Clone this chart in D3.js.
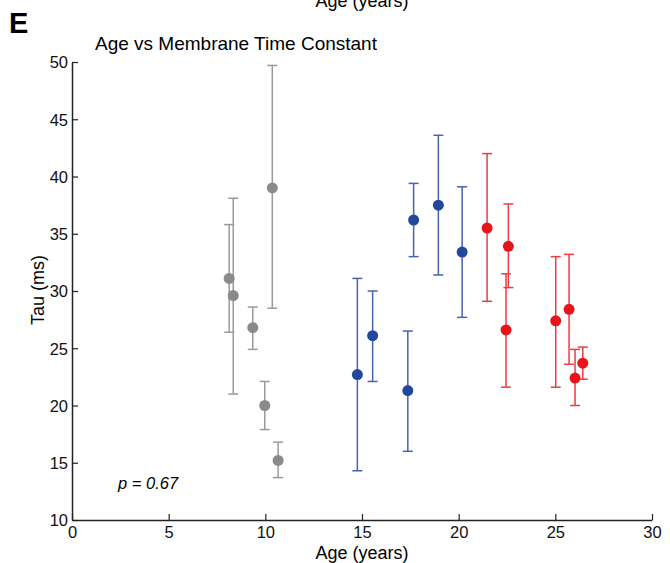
<!DOCTYPE html>
<html>
<head>
<meta charset="utf-8">
<script src="https://cdn.jsdelivr.net/npm/d3@7"></script>
<style>
  body { margin: 0; background: #fff; }
  text { font-family: "Liberation Sans", Arial, sans-serif; }
</style>
</head>
<body>
<script>
// data: age (years), tau (ms), error bar low / high
var grayAge  = [8.13, 8.34, 9.35, 9.97, 10.36, 10.66];
var grayTau  = [31.1, 29.6, 26.8, 20.0, 39.0, 15.2];
var grayLo   = [26.4, 21.0, 24.9, 17.9, 28.5, 13.7];
var grayHi   = [35.8, 38.1, 28.6, 22.1, 49.7, 16.8];

var blueAge  = [14.76, 15.55, 17.37, 17.67, 18.95, 20.18];
var blueTau  = [22.7, 26.1, 21.3, 36.2, 37.5, 33.4];
var blueLo   = [14.3, 22.1, 16.0, 33.0, 31.4, 27.7];
var blueHi   = [31.1, 30.0, 26.5, 39.4, 43.6, 39.1];

var redAge   = [21.47, 22.57, 22.45, 25.02, 25.71, 26.02, 26.42];
var redTau   = [35.5, 33.9, 26.6, 27.4, 28.4, 22.4, 23.7];
var redLo    = [29.1, 30.3, 21.6, 21.6, 23.6, 20.0, 22.3];
var redHi    = [42.0, 37.6, 31.5, 33.0, 33.2, 24.9, 25.1];

var xTicks = [0, 5, 10, 15, 20, 25, 30];
var yTicks = [10, 15, 20, 25, 30, 35, 40, 45, 50];

var groups = [
  {age: grayAge, tau: grayTau, lo: grayLo, hi: grayHi, dot: "#8a8a8a", bar: "#9a9a9a"},
  {age: blueAge, tau: blueTau, lo: blueLo, hi: blueHi, dot: "#23479b", bar: "#4763b0"},
  {age: redAge,  tau: redTau,  lo: redLo,  hi: redHi,  dot: "#e8141c", bar: "#ee3b42"}
];

var width = 670, height = 563;
var svg = d3.select("body").append("svg")
  .attr("width", width)
  .attr("height", height);

var x = d3.scaleLinear().domain([0, 30]).range([72, 652]);
var y = d3.scaleLinear().domain([10, 50]).range([520, 62]);

// label of the panel above, clipped by the top edge as in the figure
svg.append("text")
  .attr("x", 362).attr("y", 7)
  .attr("text-anchor", "middle")
  .style("font-size", "18px")
  .text("Age (years)");

svg.append("text")
  .attr("x", 9).attr("y", 33)
  .style("font-size", "29px")
  .style("font-weight", "bold")
  .text("E");

svg.append("text")
  .attr("x", 95).attr("y", 50)
  .style("font-size", "19px")
  .text("Age vs Membrane Time Constant");

// axes, ticks pointing inward
var xAxis = svg.append("g")
  .attr("transform", "translate(0," + y(10) + ")")
  .call(d3.axisBottom(x).tickValues(xTicks).tickSizeInner(-6).tickSizeOuter(0).tickPadding(8));
var yAxis = svg.append("g")
  .attr("transform", "translate(" + x(0) + ",0)")
  .call(d3.axisLeft(y).tickValues(yTicks).tickSizeInner(-6).tickSizeOuter(0).tickPadding(4));

[xAxis, yAxis].forEach(function(a) {
  a.select(".domain").attr("stroke", "#222").attr("stroke-width", 1.5);
  a.selectAll(".tick line").attr("stroke", "#222").attr("stroke-width", 1.2);
  a.selectAll(".tick text").attr("fill", "#111")
    .style("font-family", "'Liberation Sans', Arial, sans-serif")
    .style("font-size", "16.5px");
});
xAxis.selectAll(".tick text").attr("dy", "0.6em");
yAxis.selectAll(".tick text").attr("dy", "0.35em");

svg.append("text")
  .attr("x", 362).attr("y", 559)
  .attr("text-anchor", "middle")
  .style("font-size", "18px")
  .text("Age (years)");

svg.append("text")
  .attr("transform", "translate(44,290) rotate(-90)")
  .attr("text-anchor", "middle")
  .style("font-size", "18px")
  .text("Tau (ms)");

svg.append("text")
  .attr("x", 118).attr("y", 489)
  .style("font-size", "16.5px")
  .style("font-style", "italic")
  .text("p = 0.67");

// error bars and points
var cap = 5;
groups.forEach(function(g) {
  var rows = g.age.map(function(a, i) {
    return {age: a, tau: g.tau[i], lo: g.lo[i], hi: g.hi[i]};
  });
  var bars = svg.append("g")
    .attr("stroke", g.bar)
    .attr("stroke-width", 1.5)
    .attr("fill", "none");
  bars.selectAll(".v").data(rows).enter().append("line")
    .attr("x1", function(d) { return x(d.age); })
    .attr("x2", function(d) { return x(d.age); })
    .attr("y1", function(d) { return y(d.lo); })
    .attr("y2", function(d) { return y(d.hi); });
  bars.selectAll(".t").data(rows).enter().append("line")
    .attr("x1", function(d) { return x(d.age) - cap; })
    .attr("x2", function(d) { return x(d.age) + cap; })
    .attr("y1", function(d) { return y(d.hi); })
    .attr("y2", function(d) { return y(d.hi); });
  bars.selectAll(".b").data(rows).enter().append("line")
    .attr("x1", function(d) { return x(d.age) - cap; })
    .attr("x2", function(d) { return x(d.age) + cap; })
    .attr("y1", function(d) { return y(d.lo); })
    .attr("y2", function(d) { return y(d.lo); });
  svg.append("g").selectAll("circle").data(rows).enter().append("circle")
    .attr("cx", function(d) { return x(d.age); })
    .attr("cy", function(d) { return y(d.tau); })
    .attr("r", 5.5)
    .attr("fill", g.dot);
});
</script>
</body>
</html>
